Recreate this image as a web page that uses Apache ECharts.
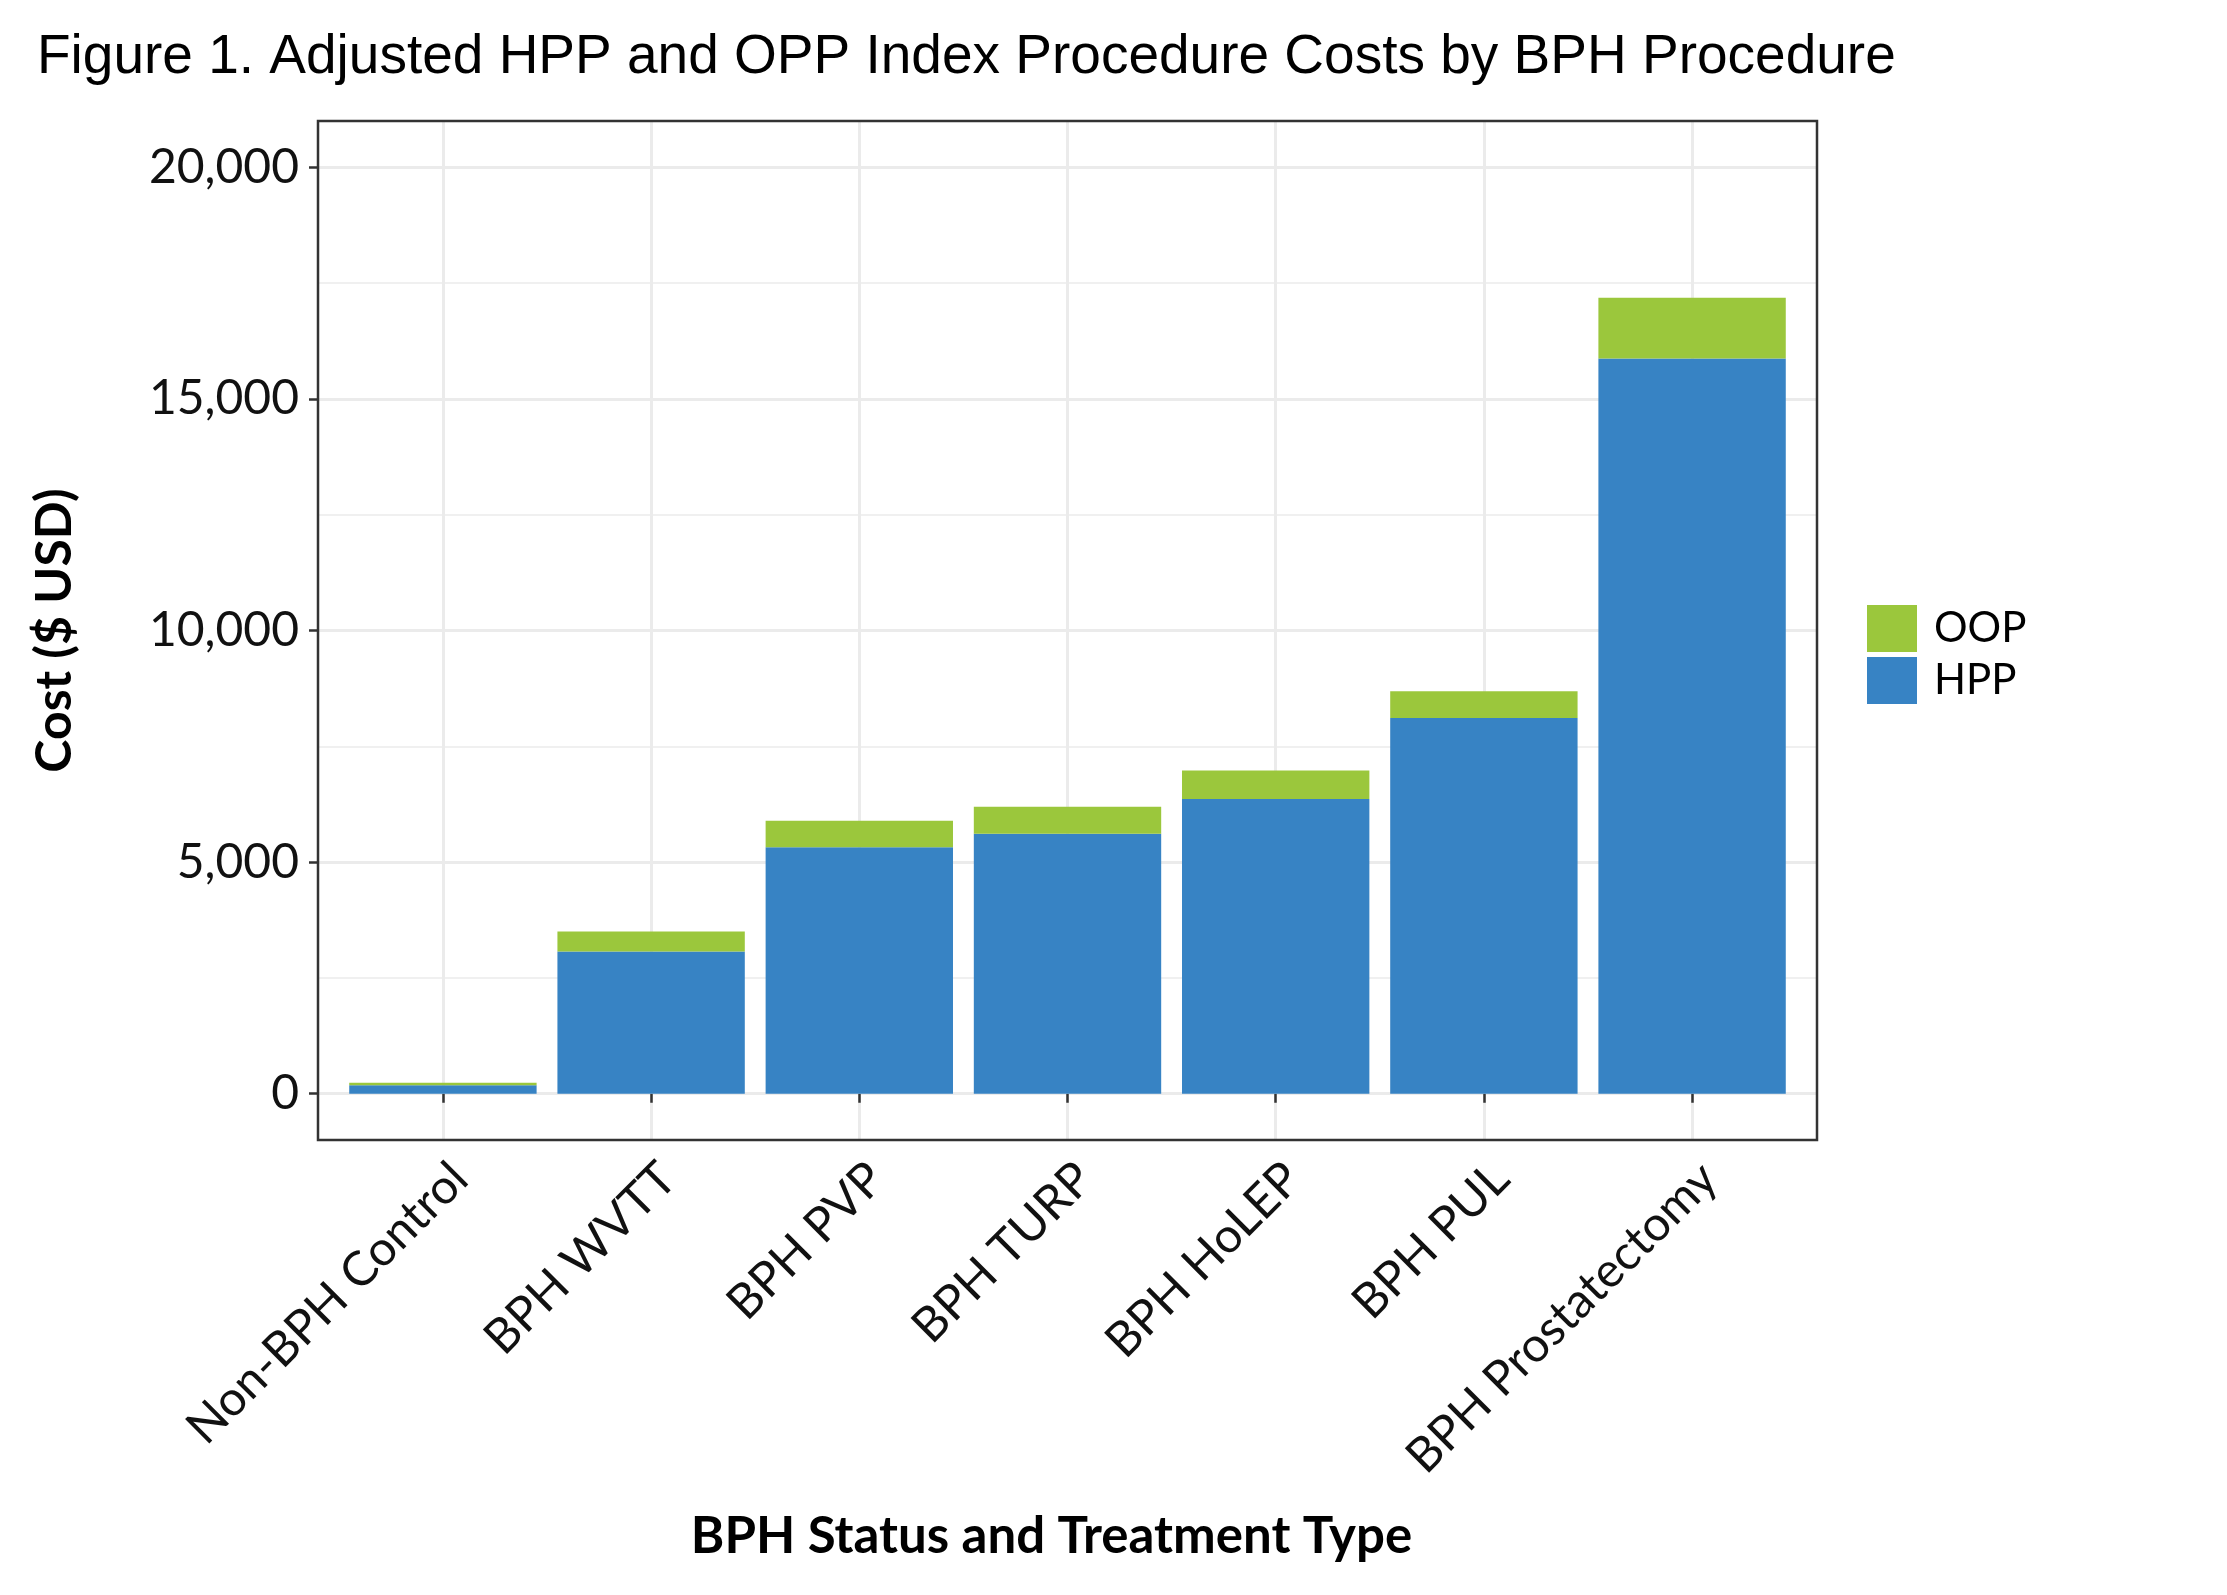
<!DOCTYPE html>
<html><head><meta charset="utf-8">
<script src="https://cdn.jsdelivr.net/npm/echarts@6/dist/echarts.min.js"></script>
<style>html,body{margin:0;padding:0;background:#fff}#c{width:2227px;height:1595px}</style>
</head><body><div id="c"></div>
<script>
const categories = ['Non-BPH Control', 'BPH WVTT', 'BPH PVP', 'BPH TURP', 'BPH HoLEP', 'BPH PUL', 'BPH Prostatectomy'];
const hppValues = [180, 3070, 5320, 5610, 6360, 8110, 15870];
const oopValues = [57, 433, 575, 586, 620, 580, 1314];
const seriesNames = ['OOP', 'HPP'];
const yTickMin = 0, yTickMax = 20000, yTickStep = 5000;

const BLUE = '#3783C4', GREEN = '#9BC73C';
const FONT = 'Lato';
const chart = echarts.init(document.getElementById('c'), null, {renderer: 'canvas'});

// panel geometry (ggplot-like expansion)
const P = {left: 318, right: 410, top: 121, bottom: 455};
const W = 2227, H = 1595;
const panelW = W - P.left - P.right;
const unit = panelW / 7.2;
const panelH = H - P.top - P.bottom;
const yUnit = panelH / 22000;

const option = {
  backgroundColor: '#fff',
  animation: false,
  title: {
    text: 'Figure 1. Adjusted HPP and OPP Index Procedure Costs by BPH Procedure',
    left: 32, top: 25,
    textStyle: {fontFamily: 'Liberation Sans', fontSize: 55, fontWeight: 'normal', color: '#000'}
  },
  legend: {
    data: seriesNames,
    orient: 'vertical',
    left: 1867, top: 605,
    itemWidth: 50, itemHeight: 47, itemGap: 5,
    icon: 'rect',
    padding: 0,
    textStyle: {fontFamily: FONT, fontSize: 42, color: '#000', padding: [0, 0, 0, 12]}
  },
  grid: [
    {left: P.left, right: P.right, top: P.top, bottom: P.bottom, show: true, borderColor: '#333', borderWidth: 2.5, backgroundColor: 'transparent', z: 5},
    {left: P.left, right: P.right, top: P.top + 1000 * yUnit, bottom: P.bottom + 1000 * yUnit},
    {left: P.left + 0.6 * unit, right: P.right + 0.6 * unit, top: P.top, bottom: P.bottom}
  ],
  xAxis: [
    {gridIndex: 0, type: 'value', show: false},
    {gridIndex: 1, type: 'value', show: false},
    {
      gridIndex: 2, type: 'category', data: categories, boundaryGap: false,
      axisLine: {show: false},
      axisTick: {show: true, length: 9, lineStyle: {color: '#333', width: 2.5}},
      splitLine: {show: true, lineStyle: {color: '#EBEBEB', width: 3}},
      axisLabel: {interval: 0, rotate: 45, margin: 14, fontFamily: FONT, fontSize: 48, color: '#111', align: 'right', verticalAlign: 'top'},
      name: 'BPH Status and Treatment Type', nameLocation: 'middle', nameGap: 371,
      nameTextStyle: {fontFamily: FONT, fontSize: 51, fontWeight: 'bold', color: '#000', padding: [0, 32, 0, 0]}
    }
  ],
  yAxis: [
    {gridIndex: 0, type: 'value', show: false},
    {
      gridIndex: 1, type: 'value', min: yTickMin, max: yTickMax, interval: yTickStep,
      axisLine: {show: false},
      axisTick: {show: true, length: 9, lineStyle: {color: '#333', width: 2.5}},
      axisLabel: {margin: 19, fontFamily: FONT, fontSize: 48, color: '#111', formatter: v => v.toLocaleString('en-US')},
      splitLine: {show: true, lineStyle: {color: '#EBEBEB', width: 3}},
      minorTick: {show: false, splitNumber: 2},
      minorSplitLine: {show: true, lineStyle: {color: '#EBEBEB', width: 1.5}},
      name: 'Cost ($ USD)', nameLocation: 'middle', nameGap: 238, nameRotate: 90,
      nameTextStyle: {fontFamily: FONT, fontSize: 50, fontWeight: 'bold', color: '#000'}
    },
    {gridIndex: 2, type: 'value', min: yTickMin - 1000, max: yTickMax + 1000, show: false}
  ],
  series: [
    {name: 'HPP', type: 'bar', xAxisIndex: 2, yAxisIndex: 2, stack: 'cost', data: hppValues, barWidth: 0.9 * unit, itemStyle: {color: BLUE}, clip: false},
    {name: 'OOP', type: 'bar', xAxisIndex: 2, yAxisIndex: 2, stack: 'cost', data: oopValues, barWidth: 0.9 * unit, itemStyle: {color: GREEN}, clip: false}
  ]
};
chart.setOption(option);
</script></body></html>
